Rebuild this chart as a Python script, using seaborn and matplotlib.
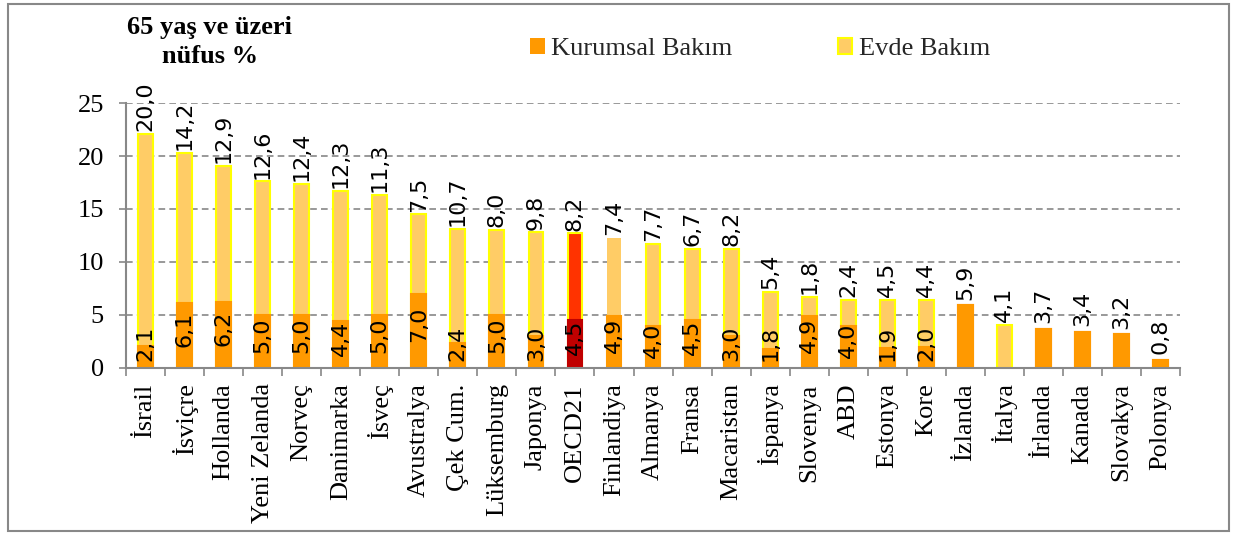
import numpy as np
import pandas as pd
import matplotlib
matplotlib.use('Agg')
import matplotlib.pyplot as plt
import seaborn as sns
from matplotlib.patches import Patch, Rectangle
from matplotlib.ticker import MultipleLocator, FixedLocator

# Veriler
ulkeler = ['İsrail', 'İsviçre', 'Hollanda', 'Yeni Zelanda', 'Norveç', 'Danimarka',
           'İsveç', 'Avustralya', 'Çek Cum.', 'Lüksemburg', 'Japonya', 'OECD21',
           'Finlandiya', 'Almanya', 'Fransa', 'Macaristan', 'İspanya', 'Slovenya',
           'ABD', 'Estonya', 'Kore', 'İzlanda', 'İtalya', 'İrlanda', 'Kanada',
           'Slovakya', 'Polonya']
kurumsal = [2.1, 6.1, 6.2, 5.0, 5.0, 4.4, 5.0, 7.0, 2.4, 5.0, 3.0, 4.5, 4.9, 4.0,
            4.5, 3.0, 1.8, 4.9, 4.0, 1.9, 2.0, 5.9, 0.0, 3.7, 3.4, 3.2, 0.8]
evde = [20.0, 14.2, 12.9, 12.6, 12.4, 12.3, 11.3, 7.5, 10.7, 8.0, 9.8, 8.2, 7.4,
        7.7, 6.7, 8.2, 5.4, 1.8, 2.4, 4.5, 4.4, np.nan, 4.1, np.nan, np.nan,
        np.nan, np.nan]
seri_adlari = ['Kurumsal Bakım', 'Evde Bakım']
baslik = '65 yaş ve üzeri\nnüfus %'
vurgu = 'OECD21'
kenarsiz = 'Finlandiya'

# Renkler
c_kurumsal = '#FF9900'
c_evde = '#FFCC66'
c_kenar = '#FFFF00'
c_vurgu_k = '#C00000'
c_vurgu_e = '#FF3300'
gri = '#888888'

sns.set_theme(style='white')
plt.rcParams['font.family'] = ['Liberation Serif', 'DejaVu Serif']

df = pd.DataFrame({'Ülke': ulkeler, 'Kurumsal': kurumsal, 'Evde': evde})
df['Toplam'] = df['Kurumsal'] + df['Evde'].fillna(0)

fig = plt.figure(figsize=(12.38, 5.34), dpi=100)
ax = fig.add_axes([0.1018, 0.3109, 0.8514, 0.4962])

# toplam (evde bakım rengi) + üstüne kurumsal
sns.barplot(data=df, x='Ülke', y='Toplam', color=c_evde, width=0.38,
            edgecolor=c_kenar, linewidth=1.5, saturation=1, errorbar=None, ax=ax)
sns.barplot(data=df, x='Ülke', y='Kurumsal', color=c_kurumsal, width=0.38,
            edgecolor=c_kurumsal, linewidth=1.5, saturation=1, errorbar=None, ax=ax)

n = len(df)
ust = ax.patches[:n]
alt = ax.patches[n:2 * n]
for i, row in df.iterrows():
    if pd.isna(row['Evde']):
        ust[i].set_edgecolor(c_kurumsal)
        ust[i].set_facecolor(c_kurumsal)
    if row['Kurumsal'] == 0:
        alt[i].set_visible(False)
    if row['Ülke'] == kenarsiz:
        ust[i].set_linewidth(0)
    if row['Ülke'] == vurgu:
        ust[i].set_facecolor(c_vurgu_e)
        alt[i].set_facecolor(c_vurgu_k)
        alt[i].set_edgecolor(c_vurgu_k)

def fmt(v):
    return f'{v:.1f}'.replace('.', ',')

lbl = dict(rotation=90, ha='center', fontsize=16, family='DejaVu Sans', color='black')
for i, row in df.iterrows():
    k, e = row['Kurumsal'], row['Evde']
    if pd.isna(e):
        ax.annotate(fmt(k), (i, k), xytext=(0, 4), textcoords='offset points',
                    va='bottom', **lbl)
        continue
    ax.annotate(fmt(e), (i, row['Toplam']), xytext=(0, 2), textcoords='offset points',
                va='bottom', **lbl)
    if k > 0:
        ax.annotate(fmt(k), (i, max(k / 2, 1.7) + 0.6), va='center', **lbl)

# eksenler
ax.set_ylim(0, 25)
ax.set_xlim(-0.5, n - 0.5)
ax.yaxis.set_major_locator(MultipleLocator(5))
ax.xaxis.set_minor_locator(FixedLocator(np.arange(-0.5, n, 1)))
ax.set_xlabel('')
ax.set_ylabel('')
ax.tick_params(axis='x', which='major', length=0, pad=11, labelsize=19,
               rotation=90, labelcolor='black')
ax.tick_params(axis='x', which='minor', bottom=True, length=6, width=1.2,
               color=gri, direction='out')
ax.tick_params(axis='y', left=True, length=5, width=1.2, color=gri, pad=11,
               labelsize=19, labelcolor='black')
ax.grid(axis='y', linestyle=(0, (4, 2.5)), color=gri, linewidth=1.2)
ax.set_axisbelow(True)
for s in ['top', 'right']:
    ax.spines[s].set_visible(False)
for s in ['left', 'bottom']:
    ax.spines[s].set_color(gri)
    ax.spines[s].set_linewidth(1.5)

# başlık ve lejant
fig.text(0.1696, 0.921, baslik, ha='center', va='center', fontsize=19,
         fontweight='bold', linespacing=1.35, color='black')
handles = [Patch(facecolor=c_kurumsal, edgecolor=c_kurumsal, linewidth=0),
           Patch(facecolor=c_evde, edgecolor=c_kenar, linewidth=1.5)]
fig.legend(handles, seri_adlari, loc='center', bbox_to_anchor=(0.614, 0.908),
           ncol=2, frameon=False, fontsize=19, handlelength=0.55, handleheight=0.55,
           handletextpad=0.25, columnspacing=4.0)

# dış çerçeve
fig.patches.append(Rectangle((0.0065, 0.0056), 0.9862, 0.9869, transform=fig.transFigure,
                             fill=False, edgecolor=gri, linewidth=1.5))

fig.savefig('out.png', dpi=100)
